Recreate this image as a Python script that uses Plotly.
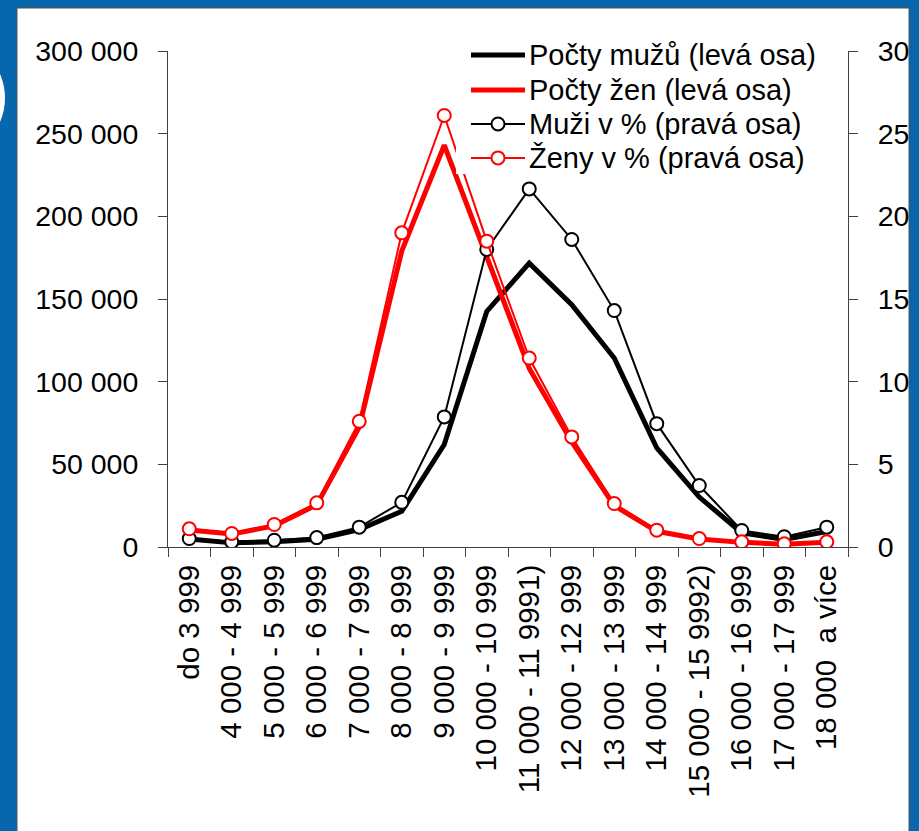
"""Rozdělení mezd mužů a žen — Plotly graf."""
import plotly.graph_objects as go

_BLUE = "#0866ad"
_RED = "#ff0000"
_BLACK = "#000000"
_AXIS = "#404040"
_FONT = "Arial, Liberation Sans, sans-serif"

kategorie = [
    "do 3 999", "4 000 - 4 999", "5 000 - 5 999", "6 000 - 6 999",
    "7 000 - 7 999", "8 000 - 8 999", "9 000 - 9 999", "10 000 - 10 999",
    "11 000 - 11 9991)", "12 000 - 12 999", "13 000 - 13 999",
    "14 000 - 14 999", "15 000 - 15 9992)", "16 000 - 16 999",
    "17 000 - 17 999", "18 000 \u00a0a více",
]
muzi_pocty = [4800, 2500, 3200, 4700, 10500, 21600, 62000, 142500,
              171700, 146500, 114300, 59900, 30200, 8600, 4500, 9400]
zeny_pocty = [10300, 7800, 12800, 25500, 72500, 179000, 243000, 176000,
              108000, 63500, 25000, 9500, 4800, 2800, 1700, 2800]
muzi_pct = [0.51, 0.31, 0.41, 0.57, 1.2, 2.7, 7.87, 18.0,
            21.66, 18.6, 14.3, 7.46, 3.72, 1.0, 0.62, 1.2]
zeny_pct = [1.1, 0.82, 1.36, 2.67, 7.6, 19.0, 26.1, 18.5,
            11.43, 6.66, 2.63, 1.02, 0.51, 0.31, 0.19, 0.31]

legenda = [
    ("Počty mužů (levá osa)", _BLACK, 5, False),
    ("Počty žen (levá osa)", _RED, 5, False),
    ("Muži v % (pravá osa)", _BLACK, 2, True),
    ("Ženy v % (pravá osa)", _RED, 2, True),
]

# plot area in px: l=168, w=680, t=51, h=496
_L, _W, _T, _H = 168, 680, 51, 496.5


def px(x):
    return (x - _L) / _W


def py(y):
    return (_T + _H - y) / _H


fig = go.Figure()
fig.add_trace(go.Scatter(
    x=kategorie, y=muzi_pocty, mode="lines", name=legenda[0][0],
    line=dict(color=_BLACK, width=5), yaxis="y",
))
fig.add_trace(go.Scatter(
    x=kategorie, y=zeny_pocty, mode="lines", name=legenda[1][0],
    line=dict(color=_RED, width=5), yaxis="y",
))
fig.add_trace(go.Scatter(
    x=kategorie, y=muzi_pct, mode="lines+markers", name=legenda[2][0],
    line=dict(color=_BLACK, width=2),
    marker=dict(size=13, color="white", line=dict(color=_BLACK, width=2)),
    yaxis="y2",
))
fig.add_trace(go.Scatter(
    x=kategorie, y=zeny_pct, mode="lines+markers", name=legenda[3][0],
    line=dict(color=_RED, width=2),
    marker=dict(size=13, color="white", line=dict(color=_RED, width=2)),
    yaxis="y2",
))

# bílý panel na modrém pozadí
fig.add_shape(type="rect", xref="paper", yref="paper",
              x0=px(17), x1=px(909), y0=py(860), y1=py(8),
              fillcolor="white", line=dict(color="#555555", width=1),
              layer="below")
fig.add_shape(type="circle", xref="paper", yref="paper",
              x0=px(-115), x1=px(5), y0=py(158), y1=py(38),
              fillcolor="white", line=dict(width=0), layer="below")

# legenda s bílým pozadím (překrývá čáry jako v Excelu)
fig.add_shape(type="rect", xref="paper", yref="paper",
              x0=px(456), x1=px(830), y0=py(174), y1=py(37),
              fillcolor="white", line=dict(width=0), layer="above")
row_y = [55, 90, 124, 158]
for (text, color, width, marker), yy in zip(legenda, row_y):
    fig.add_shape(type="line", xref="paper", yref="paper",
                  x0=px(471), x1=px(525), y0=py(yy), y1=py(yy),
                  line=dict(color=color, width=width), layer="above")
    if marker:
        fig.add_shape(type="circle", xref="paper", yref="paper",
                      x0=px(491.5), x1=px(504.5), y0=py(yy + 6.5), y1=py(yy - 6.5),
                      fillcolor="white", line=dict(color=color, width=2),
                      layer="above")
    fig.add_annotation(xref="paper", yref="paper", x=px(527), y=py(yy),
                       xanchor="left", yanchor="middle", text=text,
                       showarrow=False,
                       font=dict(family=_FONT, size=29, color=_BLACK))

fig.update_layout(
    width=919, height=831,
    margin=dict(l=168, r=71, t=51, b=284),
    paper_bgcolor=_BLUE,
    plot_bgcolor="rgba(0,0,0,0)",
    separators=", ",
    font=dict(family=_FONT, size=28, color=_BLACK),
    showlegend=False,
    xaxis=dict(
        type="category", tickson="boundaries", tickangle=-90,
        range=[-0.5, len(kategorie) - 0.5],
        ticks="outside", ticklen=9, tickcolor=_AXIS, tickwidth=1,
        showline=True, linecolor=_AXIS, linewidth=1,
        showgrid=False, zeroline=False, automargin=False,
        ticklabelstandoff=5,
        tickfont=dict(family=_FONT, size=29.5, color=_BLACK),
    ),
    yaxis=dict(
        range=[0, 300000], dtick=50000, tickformat=",d",
        ticks="outside", ticklen=9, tickcolor=_AXIS, tickwidth=1,
        showline=True, linecolor=_AXIS, linewidth=1,
        showgrid=False, zeroline=False, automargin=False,
        ticklabelstandoff=14,
        tickfont=dict(family=_FONT, size=28.5, color=_BLACK),
    ),
    yaxis2=dict(
        range=[0, 30], dtick=5, overlaying="y", side="right", anchor="x",
        ticks="outside", ticklen=9, tickcolor=_AXIS, tickwidth=1,
        showline=True, linecolor=_AXIS, linewidth=1,
        showgrid=False, zeroline=False, automargin=False,
        ticklabelstandoff=14,
        tickfont=dict(family=_FONT, size=28.5, color=_BLACK),
    ),
    yaxis3=dict(
        range=[0, 30], dtick=5, overlaying="y", side="right", anchor="x",
        ticks="inside", ticklen=9, tickcolor=_AXIS, tickwidth=1,
        showticklabels=False, showline=False,
        showgrid=False, zeroline=False, automargin=False,
    ),
)

fig.write_html("out.html", config={"displayModeBar": False},
               post_script="document.body.style.margin='0';")
